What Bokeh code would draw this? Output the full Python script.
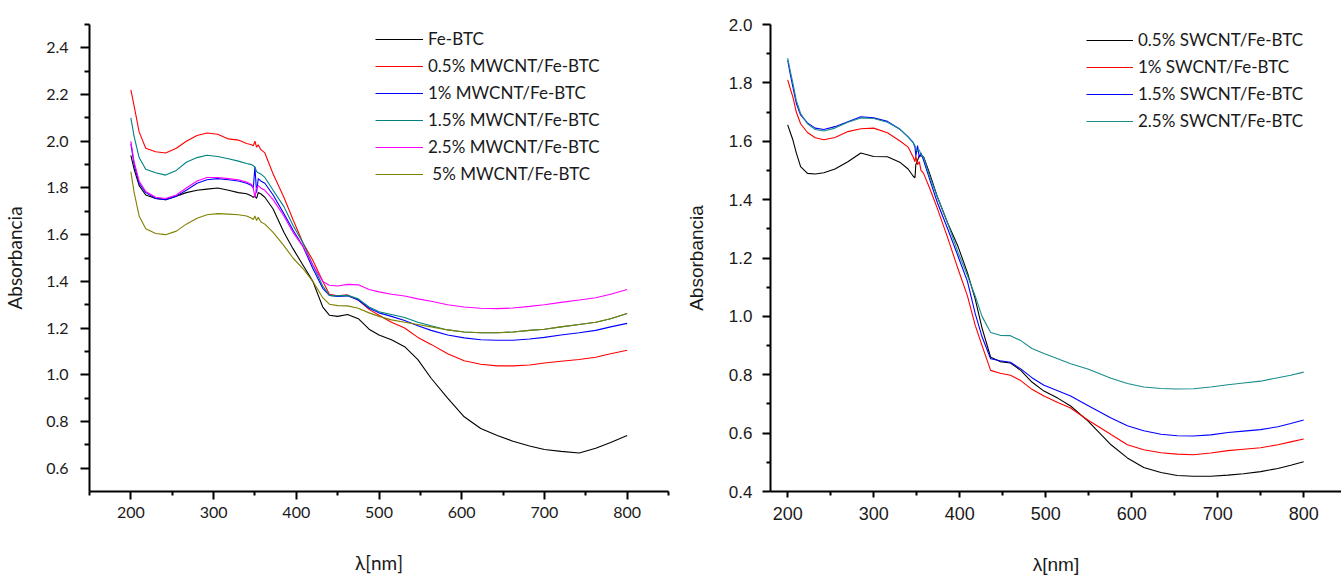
from bokeh.plotting import figure
from bokeh.layouts import row
from bokeh.models import FixedTicker, PrintfTickFormatter, Legend, LegendItem, Range1d
from bokeh.embed import file_html
from bokeh.resources import INLINE

# ---------------- Left panel data (MWCNT) ----------------
wl_left = [200, 204, 210, 218, 230, 242, 255, 267, 280, 292, 305, 318, 330, 340, 346, 348, 350, 352, 354, 357,
           362, 372, 385, 396, 408, 420, 432, 440, 450, 462, 475, 488, 500, 515, 531, 547, 563, 583, 603, 623,
           643, 662, 682, 700, 720, 742, 762, 780, 800]
fe_btc = [1.94, 1.88, 1.81, 1.77, 1.755, 1.75, 1.765, 1.78, 1.79, 1.795, 1.80, 1.79, 1.78, 1.775, 1.765, 1.76, 1.765, 1.755, 1.78, 1.775,
          1.76, 1.71, 1.61, 1.54, 1.47, 1.40, 1.29, 1.255, 1.25, 1.258, 1.24, 1.195, 1.17, 1.15, 1.12, 1.065, 0.985, 0.90, 0.82, 0.77,
          0.74, 0.715, 0.695, 0.68, 0.672, 0.665, 0.685, 0.71, 0.74]
mw_05 = [2.22, 2.15, 2.04, 1.97, 1.955, 1.95, 1.97, 2.00, 2.025, 2.035, 2.03, 2.01, 2.005, 1.99, 1.985, 1.98, 2.00, 1.975, 1.985, 1.965,
         1.95, 1.86, 1.76, 1.665, 1.565, 1.49, 1.40, 1.345, 1.338, 1.342, 1.32, 1.28, 1.255, 1.225, 1.20, 1.16, 1.13, 1.09, 1.06, 1.045,
         1.038, 1.038, 1.042, 1.05, 1.058, 1.065, 1.075, 1.09, 1.105]
mw_1 = [1.99, 1.90, 1.82, 1.78, 1.755, 1.75, 1.765, 1.79, 1.82, 1.835, 1.84, 1.835, 1.83, 1.82, 1.81, 1.80, 1.89, 1.78, 1.84, 1.83,
        1.82, 1.77, 1.69, 1.62, 1.55, 1.455, 1.37, 1.34, 1.335, 1.338, 1.32, 1.285, 1.265, 1.25, 1.232, 1.21, 1.19, 1.17, 1.158, 1.15,
        1.148, 1.148, 1.153, 1.16, 1.17, 1.18, 1.19, 1.205, 1.22]
mw_15 = [2.10, 2.02, 1.93, 1.88, 1.865, 1.855, 1.875, 1.91, 1.93, 1.94, 1.935, 1.925, 1.915, 1.905, 1.90, 1.895, 1.89, 1.87, 1.865, 1.86,
         1.845, 1.79, 1.72, 1.64, 1.565, 1.47, 1.38, 1.34, 1.338, 1.34, 1.325, 1.29, 1.27, 1.258, 1.245, 1.225, 1.21, 1.192, 1.183, 1.18,
         1.18, 1.183, 1.19, 1.195, 1.205, 1.215, 1.225, 1.24, 1.262]
mw_25 = [2.00, 1.91, 1.83, 1.785, 1.76, 1.755, 1.77, 1.80, 1.83, 1.845, 1.845, 1.84, 1.835, 1.825, 1.815, 1.80, 1.76, 1.80, 1.81, 1.80,
         1.79, 1.75, 1.68, 1.61, 1.55, 1.47, 1.40, 1.383, 1.38, 1.387, 1.385, 1.365, 1.355, 1.345, 1.337, 1.325, 1.315, 1.30, 1.29, 1.285,
         1.283, 1.286, 1.293, 1.30, 1.31, 1.32, 1.33, 1.345, 1.365]
mw_5 = [1.87, 1.78, 1.68, 1.625, 1.605, 1.60, 1.615, 1.645, 1.67, 1.685, 1.69, 1.688, 1.685, 1.68, 1.67, 1.665, 1.68, 1.66, 1.675, 1.655,
        1.645, 1.61, 1.553, 1.50, 1.455, 1.40, 1.33, 1.302, 1.296, 1.295, 1.285, 1.265, 1.25, 1.235, 1.225, 1.215, 1.205, 1.192, 1.183, 1.18,
        1.18, 1.183, 1.19, 1.195, 1.205, 1.215, 1.225, 1.24, 1.262]
left_names = ["Fe-BTC", "0.5% MWCNT/Fe-BTC", "1% MWCNT/Fe-BTC", "1.5% MWCNT/Fe-BTC", "2.5% MWCNT/Fe-BTC", " 5% MWCNT/Fe-BTC"]
left_series = [fe_btc, mw_05, mw_1, mw_15, mw_25, mw_5]
left_colors = ["#000000", "#ff0000", "#0000ff", "#008080", "#ff00ff", "#808000"]

# ---------------- Right panel data (SWCNT) ----------------
wl_right = [200, 203, 206, 210, 215, 223, 232, 242, 255, 270, 285, 300, 316, 331, 340, 346, 348, 349, 351, 353, 355, 358,
            365, 374, 386, 398, 409, 418, 426, 436, 447, 459, 471, 484, 498, 514, 529, 549, 576, 595, 614, 634, 653,
            672, 692, 712, 730, 750, 770, 785, 800]
sw_05 = [1.656, 1.63, 1.605, 1.56, 1.513, 1.49, 1.488, 1.492, 1.505, 1.53, 1.56, 1.548, 1.547, 1.527, 1.505, 1.48, 1.475, 1.52, 1.535, 1.55, 1.55, 1.547,
         1.49, 1.41, 1.32, 1.24, 1.15, 1.06, 0.96, 0.86, 0.845, 0.84, 0.815, 0.775, 0.744, 0.72, 0.693, 0.642, 0.56, 0.515, 0.482, 0.465, 0.455,
         0.452, 0.452, 0.456, 0.461, 0.468, 0.479, 0.49, 0.502]
sw_1 = [1.81, 1.78, 1.752, 1.70, 1.66, 1.63, 1.612, 1.605, 1.613, 1.633, 1.643, 1.645, 1.629, 1.60, 1.58, 1.545, 1.53, 1.55, 1.52, 1.53, 1.50, 1.49,
        1.44, 1.37, 1.27, 1.163, 1.07, 0.97, 0.90, 0.815, 0.805, 0.798, 0.78, 0.75, 0.727, 0.705, 0.686, 0.645, 0.595, 0.56, 0.543, 0.533, 0.528,
        0.526, 0.532, 0.54, 0.545, 0.55, 0.56, 0.57, 0.58]
sw_15 = [1.877, 1.83, 1.786, 1.73, 1.69, 1.663, 1.645, 1.64, 1.65, 1.667, 1.684, 1.68, 1.668, 1.64, 1.615, 1.595, 1.58, 1.55, 1.585, 1.545, 1.56, 1.535,
         1.47, 1.39, 1.30, 1.207, 1.12, 1.01, 0.93, 0.855, 0.848, 0.843, 0.82, 0.79, 0.764, 0.745, 0.727, 0.695, 0.652, 0.625, 0.608, 0.596, 0.591,
         0.59, 0.594, 0.602, 0.607, 0.612, 0.622, 0.633, 0.645]
sw_25 = [1.885, 1.84, 1.80, 1.74, 1.695, 1.66, 1.64, 1.635, 1.645, 1.665, 1.68, 1.678, 1.665, 1.64, 1.615, 1.595, 1.585, 1.575, 1.565, 1.57, 1.555, 1.545,
         1.48, 1.41, 1.32, 1.22, 1.14, 1.07, 1.00, 0.945, 0.935, 0.934, 0.917, 0.89, 0.873, 0.855, 0.838, 0.82, 0.788, 0.77, 0.758, 0.753, 0.751,
         0.752, 0.758, 0.766, 0.772, 0.778, 0.79, 0.798, 0.809]
right_names = ["0.5% SWCNT/Fe-BTC", "1% SWCNT/Fe-BTC", "1.5% SWCNT/Fe-BTC", "2.5% SWCNT/Fe-BTC"]
right_series = [sw_05, sw_1, sw_15, sw_25]
right_colors = ["#000000", "#ff0000", "#0000ff", "#1a8c8c"]

x_major = [200, 300, 400, 500, 600, 700, 800]
x_minor_left = [150, 250, 350, 450, 550, 650, 750, 850]
x_minor_right = [250, 350, 450, 550, 650, 750]
y_major_left = [0.6, 0.8, 1.0, 1.2, 1.4, 1.6, 1.8, 2.0, 2.2, 2.4]
y_minor_left = [0.7, 0.9, 1.1, 1.3, 1.5, 1.7, 1.9, 2.1, 2.3, 2.5]
y_major_right = [0.4, 0.6, 0.8, 1.0, 1.2, 1.4, 1.6, 1.8, 2.0]
y_minor_right = [0.5, 0.7, 0.9, 1.1, 1.3, 1.5, 1.7, 1.9]

LEFT_FONT = "Lato"
RIGHT_FONT = "Liberation Sans"


def style(p, font, tick_size, label_size, xmaj_out, xmin_out, ymaj_out, ymin_out, xstand, ystand, xlab_stand, ylab_stand):
    p.grid.visible = False
    p.outline_line_color = None
    for ax in (p.xaxis[0], p.yaxis[0]):
        ax.axis_line_width = 2
        ax.axis_line_color = "black"
        ax.major_tick_line_width = 2
        ax.minor_tick_line_width = 2
        ax.major_tick_in = 0
        ax.minor_tick_in = 0
        ax.major_label_text_font = font
        ax.major_label_text_color = "#1a1a1a"
        ax.axis_label_text_font = font
        ax.axis_label_text_font_style = "normal"
        ax.axis_label_text_font_size = label_size
        ax.axis_label_text_color = "#1a1a1a"
    p.xaxis[0].major_label_text_font_size = tick_size[0]
    p.yaxis[0].major_label_text_font_size = tick_size[1]
    p.xaxis[0].major_tick_out = xmaj_out
    p.xaxis[0].minor_tick_out = xmin_out
    p.yaxis[0].major_tick_out = ymaj_out
    p.yaxis[0].minor_tick_out = ymin_out
    p.xaxis[0].major_label_standoff = xstand
    p.yaxis[0].major_label_standoff = ystand
    p.xaxis[0].axis_label_standoff = xlab_stand
    p.yaxis[0].axis_label_standoff = ylab_stand
    p.yaxis[0].formatter = PrintfTickFormatter(format="%.1f")


# ---------------- Left figure ----------------
p1 = figure(width=680, height=577, output_backend="svg", toolbar_location=None,
            x_range=Range1d(150, 850), y_range=Range1d(0.5, 2.5),
            x_axis_label="λ[nm]", y_axis_label="Absorbancia",
            min_border_left=83, min_border_right=12, min_border_top=15, min_border_bottom=81)
p1.xaxis.ticker = FixedTicker(ticks=x_major, minor_ticks=x_minor_left)
p1.yaxis.ticker = FixedTicker(ticks=y_major_left, minor_ticks=y_minor_left)
style(p1, LEFT_FONT, ("16px", "16px"), "19px", 8, 4, 9, 5, 7, 12, 30, 17)

items1 = []
for name, ys, c in zip(left_names, left_series, left_colors):
    r = p1.line(wl_left, ys, line_color=c, line_width=1.1)
    items1.append(LegendItem(label=name, renderers=[r]))
leg1 = Legend(items=items1, location=(286, 307), glyph_width=48, glyph_height=20, label_height=20,
              spacing=6, padding=0, margin=0, label_standoff=5, border_line_color=None,
              background_fill_alpha=0, label_text_font=LEFT_FONT, label_text_font_size="17px",
              label_text_color="#1a1a1a")
p1.add_layout(leg1)

# ---------------- Right figure ----------------
p2 = figure(width=661, height=577, output_backend="svg", toolbar_location=None,
            x_range=Range1d(180, 844), y_range=Range1d(0.4, 2.0),
            x_axis_label="λ[nm]", y_axis_label="Absorbancia",
            min_border_left=90, min_border_right=0, min_border_top=24, min_border_bottom=83)
p2.xaxis.ticker = FixedTicker(ticks=x_major, minor_ticks=x_minor_right)
p2.yaxis.ticker = FixedTicker(ticks=y_major_right, minor_ticks=y_minor_right)
style(p2, RIGHT_FONT, ("18px", "17px"), "19px", 6, 4, 8, 4, 9, 10, 31, 19)

items2 = []
for name, ys, c in zip(right_names, right_series, right_colors):
    r = p2.line(wl_right, ys, line_color=c, line_width=1.1)
    items2.append(LegendItem(label=name, renderers=[r]))
leg2 = Legend(items=items2, location=(316, 360), glyph_width=47, glyph_height=20, label_height=20,
              spacing=6, padding=0, margin=0, label_standoff=5, border_line_color=None,
              background_fill_alpha=0, label_text_font=LEFT_FONT, label_text_font_size="17px",
              label_text_color="#1a1a1a")
p2.add_layout(leg2)

layout = row(p1, p2, spacing=0)
open("out.html", "w").write(file_html(layout, INLINE))
